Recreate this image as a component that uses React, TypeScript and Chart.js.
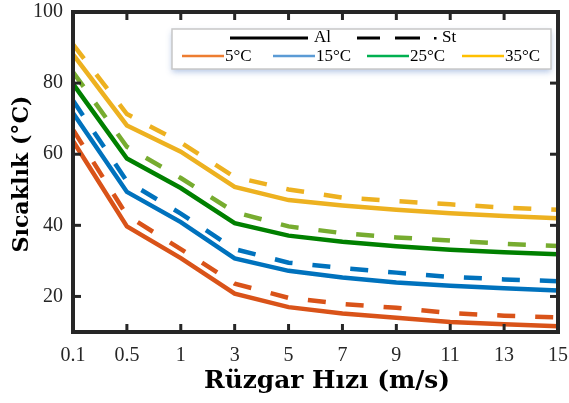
import { useEffect, useRef } from "react";
import { Chart, registerables } from "chart.js";

Chart.register(...registerables);

const windSpeeds = ["0.1", "0.5", "1", "3", "5", "7", "9", "11", "13", "15"];
const yTicks = [20, 40, 60, 80, 100];

// Al (solid)
const al5 = [63.7, 39.7, 30.8, 20.8, 17.0, 15.2, 14.0, 12.8, 12.2, 11.6];
const al15 = [71.6, 49.4, 40.9, 30.7, 27.2, 25.3, 23.9, 23.0, 22.3, 21.7];
const al25 = [79.8, 58.8, 50.5, 40.6, 37.1, 35.4, 34.1, 33.1, 32.4, 31.9];
const al35 = [88.1, 68.1, 60.7, 50.8, 47.1, 45.6, 44.4, 43.4, 42.6, 42.0];
// St (dashed)
const st5 = [66.9, 42.8, 33.3, 23.6, 19.6, 17.9, 16.8, 15.3, 14.6, 14.1];
const st15 = [75.1, 52.4, 43.3, 33.3, 29.5, 28.0, 26.7, 25.5, 24.8, 24.3];
const st25 = [83.1, 62.1, 53.3, 43.7, 39.7, 37.8, 36.6, 35.7, 34.8, 34.2];
const st35 = [90.9, 71.3, 63.3, 53.6, 50.1, 47.8, 46.8, 45.9, 45.0, 44.4];

const ambientLabels = ["5°C", "15°C", "25°C", "35°C"];
const ambientLegendColors = ["#ED7D31", "#5B9BD5", "#00B050", "#FFC000"];
const conductorLabels = ["Al", "St"];

const xTitle = "Rüzgar Hızı (m/s)";
const yTitle = "Sıcaklık (°C)";

const DASH = [18, 20];

function fitFont(ctx: CanvasRenderingContext2D, text: string, target: number, family: string) {
  ctx.font = `bold 24px ${family}`;
  const w = ctx.measureText(text).width;
  const size = (24 * target) / w;
  return `bold ${size.toFixed(2)}px ${family}`;
}

const framePlugin = {
  id: "frameAndLegend",
  afterDatasetsDraw(chart: any) {
    const { ctx, chartArea: a, scales } = chart;
    const x = scales.x;
    const y = scales.y;
    ctx.save();
    ctx.strokeStyle = "#262626";
    ctx.lineCap = "butt";
    ctx.lineWidth = 3;
    const seg = (x1: number, y1: number, x2: number, y2: number) => {
      ctx.beginPath();
      ctx.moveTo(x1, y1);
      ctx.lineTo(x2, y2);
      ctx.stroke();
    };
    for (let i = 1; i < windSpeeds.length - 1; i++) {
      const px = x.getPixelForValue(i);
      seg(px, a.bottom, px, a.bottom - 8);
      seg(px, a.top, px, a.top + 8);
    }
    for (const v of yTicks) {
      const py = y.getPixelForValue(v);
      seg(a.left, py, a.left + 8, py);
      seg(a.right, py, a.right - 8, py);
    }
    ctx.lineWidth = 4;
    ctx.strokeRect(a.left, a.top, a.right - a.left, a.bottom - a.top);

    // legend box
    const bx = 172, by = 29, bw = 379, bh = 40;
    ctx.save();
    ctx.shadowColor = "rgba(90,130,200,0.45)";
    ctx.shadowBlur = 6;
    ctx.shadowOffsetY = 3;
    ctx.fillStyle = "#ffffff";
    ctx.fillRect(bx, by, bw, bh);
    ctx.restore();
    ctx.lineWidth = 1.5;
    ctx.strokeStyle = "#c8c8c8";
    ctx.strokeRect(bx, by, bw, bh);

    ctx.font = '17px "Liberation Serif"';
    ctx.fillStyle = "#000000";
    ctx.textBaseline = "middle";
    ctx.textAlign = "left";
    // row 1
    const r1 = 38;
    ctx.strokeStyle = "#000000";
    ctx.lineWidth = 3;
    seg(230, r1, 308, r1);
    ctx.fillText(conductorLabels[0], 314, r1);
    seg(357, r1, 380, r1);
    seg(395, r1, 420, r1);
    ctx.fillRect(434, r1 - 1, 2.5, 2.5);
    ctx.fillText(conductorLabels[1], 442, r1);
    // row 2
    const r2 = 56;
    const lineX = [182, 273, 367, 462];
    ctx.lineWidth = 2.5;
    ambientLabels.forEach((lab, i) => {
      ctx.strokeStyle = ambientLegendColors[i];
      seg(lineX[i], r2, lineX[i] + 42, r2);
      ctx.fillStyle = "#000000";
      ctx.fillText(lab, lineX[i] + 43, r2 + 1);
    });

    // axis titles
    ctx.fillStyle = "#000000";
    ctx.textAlign = "center";
    ctx.textBaseline = "alphabetic";
    ctx.font = fitFont(ctx, xTitle, 246, '"DejaVu Serif"');
    ctx.fillText(xTitle, 327, 388);
    ctx.save();
    ctx.translate(28, 174);
    ctx.rotate(-Math.PI / 2);
    ctx.font = fitFont(ctx, yTitle, 157, '"DejaVu Serif"');
    ctx.fillText(yTitle, 0, 0);
    ctx.restore();
    ctx.restore();
  },
};

export default function App() {
  const ref = useRef<HTMLCanvasElement | null>(null);
  useEffect(() => {
    if (!ref.current) return;
    const mk = (data: number[], color: string, dashed: boolean) => ({
      data,
      borderColor: color,
      backgroundColor: color,
      borderWidth: 4.5,
      borderDash: dashed ? DASH : [],
      borderCapStyle: "butt" as const,
      borderJoinStyle: "miter" as const,
      pointRadius: 0,
      tension: 0,
      fill: false,
    });
    const chart = new Chart(ref.current, {
      type: "line",
      data: {
        labels: windSpeeds,
        datasets: [
          mk(st5, "#D95319", true),
          mk(al5, "#D95319", false),
          mk(st15, "#0072BD", true),
          mk(al15, "#0072BD", false),
          mk(st25, "#77AC30", true),
          mk(al25, "#008000", false),
          mk(st35, "#EDB120", true),
          mk(al35, "#EDB120", false),
        ],
      },
      options: {
        responsive: false,
        animation: false,
        layout: { padding: { left: 0, top: 12, right: 11, bottom: 0 } },
        plugins: { legend: { display: false }, tooltip: { enabled: false }, title: { display: false } },
        scales: {
          x: {
            type: "category",
            offset: false,
            grid: { display: false, drawTicks: false },
            border: { display: false },
            ticks: {
              autoSkip: false,
              maxRotation: 0,
              padding: 12,
              color: "#262626",
              font: { family: '"Liberation Serif"', size: 20 },
            },
            afterFit: (s: any) => {
              s.height = 71;
              s.paddingLeft = 0;
              s.paddingRight = 0;
            },
          },
          y: {
            type: "linear",
            min: 10,
            max: 100,
            grid: { display: false, drawTicks: false },
            border: { display: false },
            ticks: {
              padding: 10,
              color: "#262626",
              font: { family: '"Liberation Serif"', size: 20 },
            },
            afterBuildTicks: (s: any) => {
              s.ticks = yTicks.map((v) => ({ value: v }));
            },
            afterFit: (s: any) => {
              s.width = 73;
              s.paddingTop = 0;
              s.paddingBottom = 0;
            },
          },
        },
      },
      plugins: [framePlugin],
    });
    return () => chart.destroy();
  }, []);
  return (
    <div style={{ position: "absolute", left: 0, top: 0, width: 569, height: 403, background: "#fff" }}>
      <canvas ref={ref} width={569} height={403} />
    </div>
  );
}
